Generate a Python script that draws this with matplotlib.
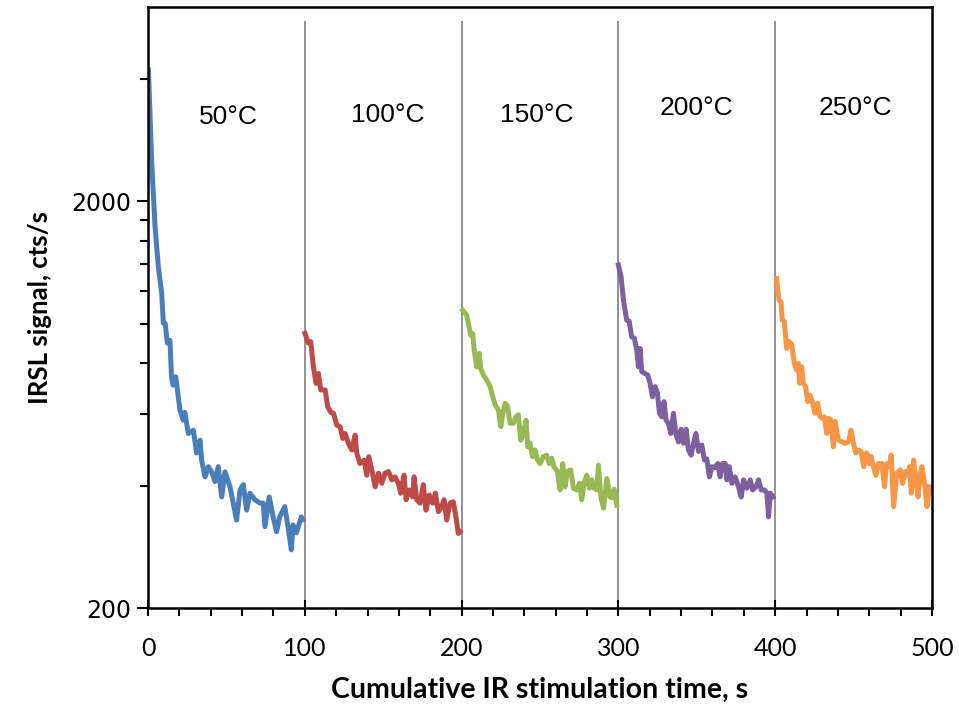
import matplotlib
matplotlib.use("Agg")
import matplotlib.pyplot as plt
from matplotlib.ticker import FixedLocator, NullFormatter, FuncFormatter

# Data (time in s, IRSL signal in cts/s)
t_50 = [0.3, 2.3, 4.5, 6.6, 8.7, 9.8, 11.0, 12.3, 14.0, 15.0, 16.0, 17.7, 20.4, 22.5, 23.5, 25.7,
        28.9, 31.0, 33.2, 34.2, 36.4, 38.5, 40.6, 42.7, 44.8, 47.0, 49.1, 52.3, 56.5, 58.7, 60.8,
        62.9, 65.0, 68.2, 71.4, 73.5, 74.6, 77.3, 79.8, 82.0, 84.0, 87.2, 89.3, 91.4, 92.5, 94.6,
        97.8, 98.5]
s_50 = [4200, 2521, 1730, 1380, 1189, 1002, 1000, 896, 910, 740, 706, 740, 613, 579, 605, 537,
        547, 481, 517, 462, 420, 445, 432, 409, 445, 375, 432, 397, 329, 390, 402,
        348, 383, 369, 362, 362, 317, 375, 335, 308, 335, 355, 317, 278, 320, 306,
        335, 330]

t_100 = [100.1, 102.2, 103.8, 105.5, 107.2, 108.7, 110.2, 113.0, 114.6, 116.6, 118.3, 120.4, 122.5,
         124.2, 125.7, 127.8, 130.0, 132.1, 133.1, 135.2, 137.8, 139.5, 140.8, 142.7, 144.9, 147.0,
         149.1, 151.2, 153.4, 155.5, 157.6, 159.7, 161.2, 163.3, 164.6, 166.7, 168.8, 169.7, 171.4,
         173.5, 175.6, 177.3, 179.4, 181.6, 183.3, 185.2, 187.3, 188.8, 190.5, 192.6, 194.7, 196.4,
         197.9, 199.0]
s_100 = [946, 896, 903, 783, 713, 754, 687, 687, 625, 605, 602, 563, 558,
         522, 537, 508, 489, 532, 481, 453, 462, 424, 471, 437, 397, 429,
         405, 429, 433, 413, 420, 405, 383, 424, 369, 390, 375, 420, 369,
         362, 402, 348, 379, 362, 383, 345, 355, 369, 329, 362, 365, 335,
         305, 308]

t_150 = [200.7, 203.2, 204.3, 205.8, 207.1, 207.9, 209.6, 211.3, 212.2, 213.9, 216.0, 218.2, 219.9,
         221.4, 223.5, 225.0, 226.3, 227.8, 229.3, 230.9, 233.0, 234.7, 236.2, 237.7, 239.4, 241.1,
         242.2, 243.6, 245.3, 246.8, 248.5, 250.0, 252.1, 254.2, 255.9, 257.4, 258.9, 261.1, 262.8,
         264.5, 266.0, 267.5, 269.6, 271.3, 273.5, 275.2, 276.6, 278.1, 279.8, 281.5, 283.0, 284.5,
         286.2, 287.3, 288.8, 290.5, 292.6, 294.7, 295.8, 297.3, 299.0]
s_150 = [1079, 1050, 1000, 937, 945, 869, 783, 845, 776, 747, 727, 700, 661,
         631, 613, 558, 602, 637, 626, 569, 569, 590, 597, 517, 537, 579,
         498, 508, 471, 489, 462, 453, 471, 475, 453, 467, 445, 433, 390,
         453, 397, 433, 437, 394, 390, 405, 369, 405, 424, 394, 413, 394,
         390, 449, 375, 352, 416, 375, 373, 392, 358]

t_200 = [300.0, 301.7, 303.2, 305.3, 306.8, 308.5, 310.2, 311.7, 312.8, 313.8, 314.9, 317.0, 318.7,
         320.2, 321.7, 323.4, 324.9, 326.2, 327.7, 329.1, 330.4, 331.9, 333.4, 335.1, 336.6, 338.3,
         340.0, 341.5, 343.2, 344.7, 346.4, 347.9, 349.4, 351.1, 353.2, 354.9, 356.4, 358.1, 359.6,
         361.3, 363.4, 364.9, 366.4, 368.1, 369.2, 370.7, 372.4, 374.5, 376.6, 378.3, 379.8, 381.9,
         384.1, 385.6, 387.7, 389.4, 391.1, 393.2, 394.7, 395.8, 396.8, 398.5]
s_200 = [1393, 1303, 1142, 1020, 1015, 928, 920, 861, 783, 869, 762, 754, 747,
         713, 661, 700, 675, 602, 590, 643, 579, 569, 537, 602, 537, 512,
         550, 508, 550, 489, 475, 508, 537, 485, 503, 462, 465, 420, 445,
         442, 453, 420, 453, 453, 413, 445, 405, 420, 397, 375, 413, 394,
         413, 390, 397, 413, 390, 390, 383, 335, 383, 375]

t_250 = [400.9, 402.4, 403.7, 404.5, 405.8, 407.3, 408.8, 410.5, 412.2, 413.7, 414.8, 415.6, 416.9,
         417.9, 419.4, 420.7, 422.2, 423.7, 425.4, 427.1, 428.6, 430.1, 431.4, 432.9, 433.9, 435.4,
         437.1, 438.2, 440.3, 442.5, 444.6, 446.7, 448.4, 449.9, 451.4, 453.1, 454.8, 456.5, 458.4,
         459.9, 461.2, 462.7, 464.2, 465.9, 468.0, 469.7, 471.2, 472.7, 474.0, 475.5, 477.6, 479.8,
         481.2, 483.0, 484.7, 485.7, 486.8, 488.3, 489.8, 491.1, 492.6, 493.6, 495.3, 496.8, 498.5]
s_250 = [1291, 1142, 1130, 1020, 1012, 869, 903, 890, 798, 769, 798, 713, 783,
         713, 700, 643, 667, 643, 602, 637, 590, 585, 590, 537, 585, 580,
         498, 575, 517, 512, 508, 512, 547, 508, 481, 489, 485, 445, 481,
         453, 471, 445, 424, 453, 453, 397, 453, 445, 475, 355, 429, 437,
         405, 433, 424, 445, 383, 462, 413, 375, 429, 445, 405, 355, 397]

temps = ["50°C", "100°C", "150°C", "200°C", "250°C"]
colors = ["#4A7EBB", "#BE4B48", "#98B954", "#7D60A0", "#F79646"]
series = [(t_50, s_50), (t_100, s_100), (t_150, s_150), (t_200, s_200), (t_250, s_250)]
boundaries = [100, 200, 300, 400]

fig = plt.figure(figsize=(9.59, 7.06), dpi=100)
ax = fig.add_axes([148 / 959, 1 - 608 / 706, 784 / 959, 601 / 706])

# Separator lines between temperature steps
ax.vlines(boundaries, 200, 5550, colors="#7f7f7f", linewidth=1.2, zorder=1)

for (t, s), c in zip(series, colors):
    ax.plot(t, s, color=c, linewidth=3.6, solid_joinstyle="round", zorder=2)

# Temperature labels
label_pos = [(51, 3220), (153, 3250), (248, 3250), (350, 3390), (451, 3390)]
for txt, (x, y) in zip(temps, label_pos):
    ax.text(x, y, txt, ha="center", va="center", fontsize=19, family="Liberation Sans")

ax.set_yscale("log")
ax.set_xlim(0, 500)
ax.set_ylim(200, 6000)

ax.yaxis.set_major_locator(FixedLocator([200, 2000]))
ax.yaxis.set_minor_locator(FixedLocator([400, 600, 800, 1000, 1200, 1400, 1600, 1800, 4000]))
ax.yaxis.set_major_formatter(FuncFormatter(lambda v, p: "%d" % v))
ax.yaxis.set_minor_formatter(NullFormatter())
ax.xaxis.set_major_locator(FixedLocator([0, 100, 200, 300, 400, 500]))
ax.xaxis.set_minor_locator(FixedLocator(list(range(20, 500, 20))))

ax.tick_params(axis="y", which="major", direction="out", length=8, width=1.5, pad=4, labelsize=17)
ax.tick_params(axis="y", which="minor", direction="out", length=6, width=1.5)
ax.tick_params(axis="x", which="major", direction="inout", length=12, width=1.5, pad=15, labelsize=18)
ax.tick_params(axis="x", which="minor", direction="out", length=6, width=1.5)
for lab in ax.get_xticklabels():
    lab.set_family("Lato")

for sp in ax.spines.values():
    sp.set_linewidth(1.8)
    sp.set_color("black")

ax.set_xlabel("Cumulative IR stimulation time, s", fontsize=20.5, fontweight="bold", family="Lato", labelpad=12)
ax.set_ylabel("IRSL signal, cts/s", fontsize=18.5, fontweight="bold", family="Lato", labelpad=14)

fig.savefig("out.png", dpi=100)
